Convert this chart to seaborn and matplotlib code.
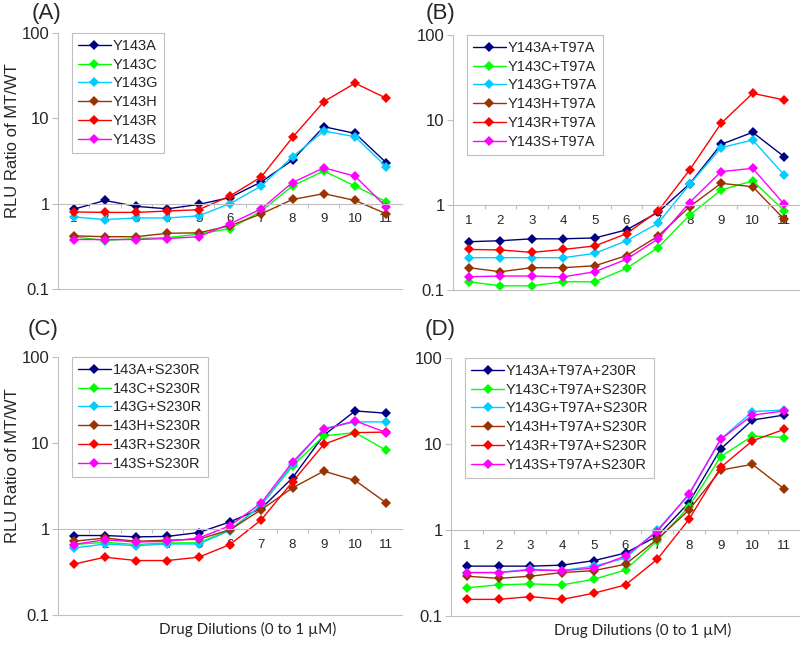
import numpy as np
import pandas as pd
import matplotlib
matplotlib.use("Agg")
import matplotlib.pyplot as plt
from matplotlib.ticker import NullLocator, FixedLocator
import seaborn as sns

# ---------------------------------------------------------------
# DATA
# ---------------------------------------------------------------
dilutions = list(range(1, 12))
x_tick_labels = [str(d) for d in dilutions]
colors = ["#000080", "#00FF00", "#00CCFF", "#993300", "#FF0000", "#FF00FF"]

names_a = ["Y143A", "Y143C", "Y143G", "Y143H", "Y143R", "Y143S"]
a_143a = [0.86, 1.09, 0.93, 0.87, 0.98, 1.18, 1.80, 3.24, 7.98, 6.66, 3.01]
a_143c = [0.41, 0.37, 0.39, 0.40, 0.44, 0.51, 0.82, 1.61, 2.42, 1.61, 1.05]
a_143g = [0.70, 0.65, 0.68, 0.68, 0.72, 1.00, 1.61, 3.54, 7.10, 6.09, 2.70]
a_143h = [0.42, 0.41, 0.41, 0.45, 0.455, 0.55, 0.76, 1.12, 1.31, 1.09, 0.76]
a_143r = [0.80, 0.79, 0.79, 0.82, 0.85, 1.23, 2.06, 5.98, 15.7, 25.8, 17.2]
a_143s = [0.38, 0.38, 0.38, 0.39, 0.41, 0.58, 0.87, 1.77, 2.63, 2.10, 0.91]

names_b = ["Y143A+T97A", "Y143C+T97A", "Y143G+T97A", "Y143H+T97A", "Y143R+T97A", "Y143S+T97A"]
b_143a = [0.37, 0.38, 0.40, 0.40, 0.41, 0.51, 0.82, 1.77, 5.17, 7.16, 3.70]
b_143c = [0.125, 0.112, 0.112, 0.125, 0.125, 0.18, 0.315, 0.76, 1.50, 1.92, 0.86]
b_143g = [0.24, 0.24, 0.24, 0.24, 0.27, 0.38, 0.61, 1.75, 4.73, 5.82, 2.25]
b_143h = [0.183, 0.164, 0.183, 0.183, 0.193, 0.254, 0.43, 0.955, 1.80, 1.64, 0.68]
b_143r = [0.30, 0.296, 0.277, 0.30, 0.33, 0.46, 0.85, 2.58, 9.14, 20.6, 17.2]
b_143s = [0.143, 0.146, 0.146, 0.143, 0.164, 0.23, 0.40, 1.07, 2.47, 2.70, 1.02]

names_c = ["143A+S230R", "143C+S230R", "143G+S230R", "143H+S230R", "143R+S230R", "143S+S230R"]
c_143a = [0.84, 0.84, 0.81, 0.82, 0.91, 1.21, 1.73, 3.94, 12.3, 23.6, 22.2]
c_143c = [0.66, 0.70, 0.66, 0.69, 0.69, 0.98, 1.89, 5.39, 12.1, 13.2, 8.2]
c_143g = [0.60, 0.67, 0.64, 0.67, 0.67, 0.96, 1.89, 5.64, 14.7, 17.6, 17.6]
c_143h = [0.72, 0.785, 0.72, 0.74, 0.76, 0.98, 1.68, 3.01, 4.71, 3.67, 2.01]
c_143r = [0.39, 0.47, 0.43, 0.43, 0.47, 0.66, 1.28, 3.54, 9.65, 13.2, 13.4]
c_143s = [0.66, 0.75, 0.705, 0.72, 0.785, 1.09, 2.01, 6.00, 14.4, 18.1, 13.2]

names_d = ["Y143A+T97A+230R", "Y143C+T97A+S230R", "Y143G+T97A+S230R",
           "Y143H+T97A+S230R", "Y143R+T97A+S230R", "Y143S+T97A+S230R"]
d_143a = [0.38, 0.38, 0.38, 0.39, 0.44, 0.54, 0.85, 2.08, 8.75, 19.0, 21.7]
d_143c = [0.213, 0.23, 0.236, 0.23, 0.267, 0.343, 0.75, 1.87, 7.12, 12.4, 11.9]
d_143g = [0.32, 0.32, 0.35, 0.337, 0.38, 0.47, 1.00, 2.55, 11.4, 23.8, 24.9]
d_143h = [0.29, 0.274, 0.29, 0.32, 0.337, 0.40, 0.78, 1.71, 4.98, 5.80, 3.00]
d_143r = [0.156, 0.156, 0.168, 0.156, 0.184, 0.23, 0.456, 1.33, 5.35, 10.9, 14.8]
d_143s = [0.32, 0.32, 0.343, 0.337, 0.36, 0.50, 0.96, 2.62, 11.3, 21.7, 24.2]

y_ticks = [0.1, 1, 10, 100]
y_tick_labels = ["0.1", "1", "10", "100"]

# ---------------------------------------------------------------
# STYLE
# ---------------------------------------------------------------
sns.set_style("white")
plt.rcParams["font.family"] = ["Liberation Sans", "DejaVu Sans"]
GREY = "#BFBFBF"

panels = [
    ("(A)", names_a, [a_143a, a_143c, a_143g, a_143h, a_143r, a_143s],
     [58, 289, 344, 256], (32, 14), False),
    ("(B)", names_b, [b_143a, b_143c, b_143g, b_143h, b_143r, b_143s],
     [453, 290, 347, 255], (426, 14), False),
    ("(C)", names_c, [c_143a, c_143c, c_143g, c_143h, c_143r, c_143s],
     [58, 615, 344, 258], (28, 330), True),
    ("(D)", names_d, [d_143a, d_143c, d_143g, d_143h, d_143r, d_143s],
     [451, 616, 349, 258], (425, 330), True),
]

W, H = 800, 645
fig = plt.figure(figsize=(W / 100, H / 100), dpi=100)

for idx, (tag, names, series, box, tag_xy, bottom_row) in enumerate(panels):
    left, bottom, width, height = box
    ax = fig.add_axes([left / W, 1 - bottom / H, width / W, height / H])
    ax.set_yscale("log")

    for name, vals, col in zip(names, series, colors):
        df = pd.DataFrame({"dilution": dilutions, "ratio": vals})
        sns.lineplot(data=df, x="dilution", y="ratio", ax=ax, color=col,
                     marker="D", markersize=5, markeredgewidth=0,
                     linewidth=1.0, label=name)

    ax.set_ylim(0.1, 100)
    ax.set_xlim(0.5, 11.5)

    # y axis
    ax.set_yticks(y_ticks, labels=y_tick_labels)
    ax.yaxis.set_minor_locator(NullLocator())
    ax.tick_params(axis="y", which="major", length=4, width=0.8,
                   color=GREY, labelsize=12, pad=2, left=True)

    # x axis crossing at y = 1
    ax.spines["bottom"].set_position(("data", 1))
    ax.set_xticks(dilutions, labels=x_tick_labels)
    ax.xaxis.set_minor_locator(FixedLocator([d + 0.5 for d in dilutions[:-1]]))
    ax.tick_params(axis="x", which="major", length=0, labelsize=9.5, pad=7)
    ax.tick_params(axis="x", which="minor", length=3, width=0.8,
                   color=GREY, bottom=True)
    ax.axhline(0.1, color=GREY, lw=0.8, clip_on=False)

    for side in ["top", "right"]:
        ax.spines[side].set_visible(False)
    for side in ["left", "bottom"]:
        ax.spines[side].set_color(GREY)
        ax.spines[side].set_linewidth(0.8)

    ax.set_ylabel("")
    ax.set_xlabel("")
    if idx % 2 == 0:
        ax.set_ylabel("RLU Ratio of MT/WT", fontsize=12, ha="center", va="center")
        ax.yaxis.set_label_coords(-0.131, 0.58)
    if bottom_row:
        ax.set_xlabel("Drug Dilutions (0 to 1 µM)", fontsize=11,
                      family=["Lato", "DejaVu Sans"], ha="center", va="center")
        ax.xaxis.set_label_coords(0.55, -0.058)

    leg = ax.legend(loc="upper left", bbox_to_anchor=(0.04, 1.0),
                    borderaxespad=0, fontsize=10.5, handlelength=2.3,
                    handletextpad=0.1, labelspacing=0.33, frameon=True,
                    fancybox=False, framealpha=1, edgecolor=GREY,
                    borderpad=0.4)
    leg.get_frame().set_linewidth(0.8)

    fig.text(tag_xy[0] / W, 1 - tag_xy[1] / H, tag, fontsize=16,
             ha="left", va="center")

fig.savefig("out.png", dpi=100)
